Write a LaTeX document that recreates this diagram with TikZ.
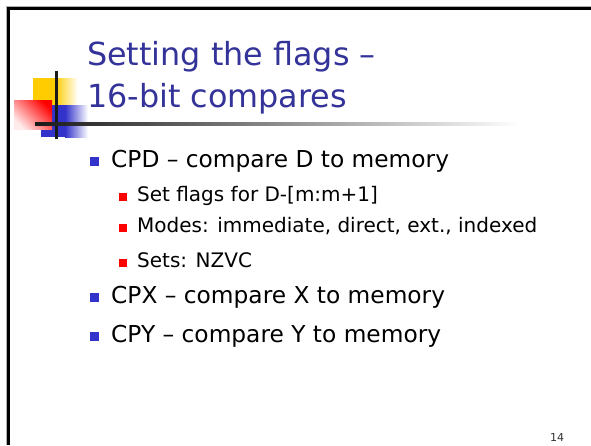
\documentclass[tikz,border=0pt]{standalone}
\usepackage{fontspec}
\setmainfont{DejaVu Sans}
\definecolor{titleblue}{HTML}{333399}
\definecolor{bulletblue}{HTML}{3333CC}
\definecolor{logoyellow}{HTML}{FFCC00}
\definecolor{logored}{HTML}{FF0000}
\definecolor{framegray}{HTML}{B0B0B0}
\tikzset{
  titletext/.style={anchor=base west, inner sep=0pt, text=titleblue, font=\fontsize{31.8}{38}\selectfont},
  maintext/.style={anchor=base west, inner sep=0pt, font=\fontsize{23.3}{28}\selectfont},
  subtext/.style={anchor=base west, inner sep=0pt, font=\fontsize{20}{24}\selectfont},
  mainbullet/.style={fill=bulletblue, draw=none},
  subbullet/.style={fill=logored, draw=none},
}
\begin{document}
\begin{tikzpicture}[x=1pt,y=-1pt]
  \useasboundingbox (0,0) rectangle (591,445);
  \fill[white] (0,0) rectangle (591,445);
  % slide frame
  \draw[framegray, line width=1pt] (6,445) -- (6,6) -- (591,6);
  \draw[black, line width=3pt] (8.5,445) -- (8.5,8.5) -- (591,8.5);

  % logo: yellow, blue and red squares
  \fill[logoyellow] (33,78) rectangle (55,106);
  \shade[left color=logoyellow, right color=white] (55,78) rectangle (78,106);
  \fill[bulletblue] (41,105) rectangle (65,137);
  \shade[left color=bulletblue, right color=white] (65,105) rectangle (88,137);
  \shade[shading=axis, top color=logored, bottom color=logored!8, shading angle=-45] (14,100) rectangle (52,129);
  % logo cross lines
  \draw[black!90, line width=3pt] (56.7,71) -- (56.7,139);
  \shade[left color=black!90, right color=white] (35,122.3) rectangle (520,125.3);

  % title
  \node[titletext] (t1) at (87,65) {Setting the flags –};
  \node[titletext] (t2) at (87,107) {16-bit compares};

  % bullet list
  \node[maintext] (b1) at (111,167) {CPD – compare D to memory};
  \fill[mainbullet] (90,157) rectangle (99,166);
  \node[subtext] (s1) at (137,201) {Set flags for D-[m:m+1]};
  \fill[subbullet] (119,193) rectangle (127,201);
  \node[subtext] (s2) at (137,232) {Modes: immediate, direct, ext., indexed};
  \fill[subbullet] (119,224) rectangle (127,232);
  \node[subtext] (s3) at (137,267) {Sets: NZVC};
  \fill[subbullet] (119,259) rectangle (127,267);
  \node[maintext] (b2) at (111,303) {CPX – compare X to memory};
  \fill[mainbullet] (90,293) rectangle (99,302);
  \node[maintext] (b3) at (111,342) {CPY – compare Y to memory};
  \fill[mainbullet] (90,332) rectangle (99,341);

  % page number
  \node[anchor=base west, inner sep=0pt, text=black!80, font=\fontsize{11}{13}\selectfont] (pg) at (550,441) {14};
\end{tikzpicture}
\end{document}
